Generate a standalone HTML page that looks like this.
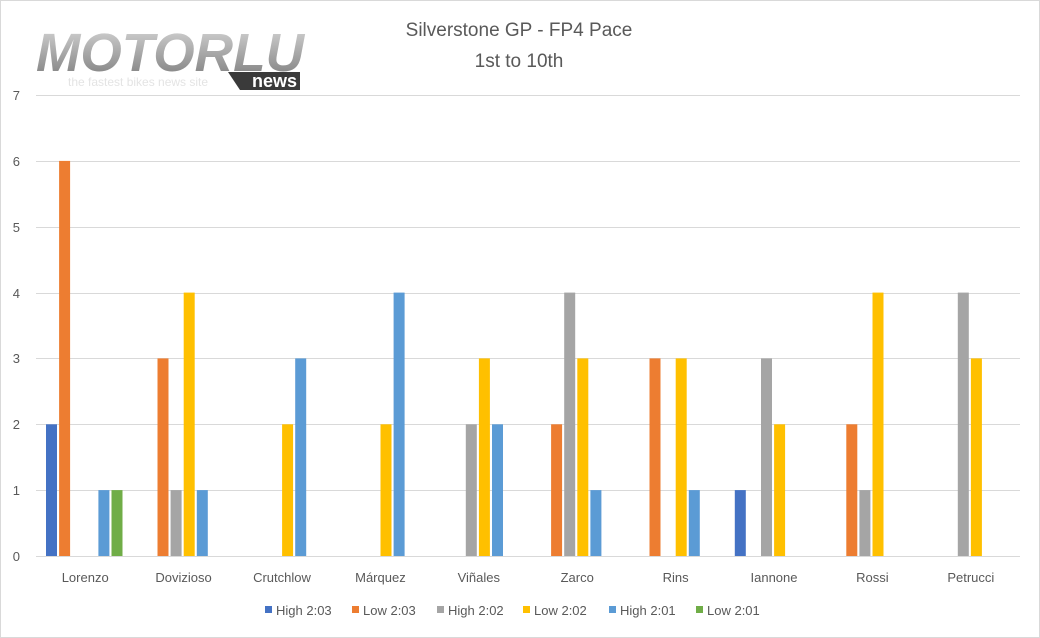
<!DOCTYPE html>
<html><head><meta charset="utf-8"><style>
html,body{margin:0;padding:0;background:#fff}
svg{display:block;font-family:"Liberation Sans",Arial,sans-serif}
</style></head><body>
<svg width="1040" height="638" viewBox="0 0 1040 638" xmlns="http://www.w3.org/2000/svg">
<defs><linearGradient id="lg" x1="0" y1="0" x2="0" y2="1"><stop offset="0" stop-color="#d8d8d8"/><stop offset="0.5" stop-color="#a8a8a8"/><stop offset="1" stop-color="#7a7a7a"/></linearGradient></defs>
<rect x="0.5" y="0.5" width="1039" height="637" fill="#fff" stroke="#d9d9d9"/>
<!-- logo -->
<text x="36" y="71" font-size="54" font-weight="bold" font-style="italic" fill="url(#lg)" textLength="268" lengthAdjust="spacingAndGlyphs">MOTORLU</text>
<polygon points="228,72 300,72 300,90 240,90" fill="#3a3a3a"/>
<text x="297" y="87" font-size="18" font-weight="bold" fill="#fff" text-anchor="end">news</text>
<text x="68" y="86" font-size="12" fill="#e4e4e4">the fastest bikes news site</text>
<!-- title -->
<text x="519" y="36" font-size="19" fill="#595959" text-anchor="middle">Silverstone GP - FP4 Pace</text>
<text x="519" y="67" font-size="19" fill="#595959" text-anchor="middle">1st to 10th</text>
<!-- grid -->
<g stroke="#d9d9d9" stroke-width="1">
<line x1="36" x2="1020" y1="95.5" y2="95.5"/><line x1="36" x2="1020" y1="161.5" y2="161.5"/>
<line x1="36" x2="1020" y1="227.5" y2="227.5"/><line x1="36" x2="1020" y1="293.5" y2="293.5"/>
<line x1="36" x2="1020" y1="358.5" y2="358.5"/><line x1="36" x2="1020" y1="424.5" y2="424.5"/>
<line x1="36" x2="1020" y1="490.5" y2="490.5"/><line x1="36" x2="1020" y1="556.5" y2="556.5"/>
</g>
<g font-size="13" fill="#595959" text-anchor="end">
<text x="20" y="100">7</text><text x="20" y="166">6</text><text x="20" y="232">5</text><text x="20" y="298">4</text>
<text x="20" y="363">3</text><text x="20" y="429">2</text><text x="20" y="495">1</text><text x="20" y="561">0</text>
</g>
<!-- bars -->
<g>
<rect x="46" y="424.3" width="11" height="131.7" fill="#4472c4"/>
<rect x="59.1" y="160.9" width="11" height="395.1" fill="#ed7d31"/>
<rect x="98.4" y="490.1" width="11" height="65.9" fill="#5b9bd5"/>
<rect x="111.5" y="490.1" width="11" height="65.9" fill="#70ad47"/>

<rect x="157.5" y="358.4" width="11" height="197.6" fill="#ed7d31"/>
<rect x="170.6" y="490.1" width="11" height="65.9" fill="#a5a5a5"/>
<rect x="183.7" y="292.6" width="11" height="263.4" fill="#ffc000"/>
<rect x="196.8" y="490.1" width="11" height="65.9" fill="#5b9bd5"/>

<rect x="282.1" y="424.3" width="11" height="131.7" fill="#ffc000"/>
<rect x="295.2" y="358.4" width="11" height="197.6" fill="#5b9bd5"/>

<rect x="380.5" y="424.3" width="11" height="131.7" fill="#ffc000"/>
<rect x="393.6" y="292.6" width="11" height="263.4" fill="#5b9bd5"/>

<rect x="465.8" y="424.3" width="11" height="131.7" fill="#a5a5a5"/>
<rect x="478.9" y="358.4" width="11" height="197.6" fill="#ffc000"/>
<rect x="492" y="424.3" width="11" height="131.7" fill="#5b9bd5"/>

<rect x="551.1" y="424.3" width="11" height="131.7" fill="#ed7d31"/>
<rect x="564.2" y="292.6" width="11" height="263.4" fill="#a5a5a5"/>
<rect x="577.3" y="358.4" width="11" height="197.6" fill="#ffc000"/>
<rect x="590.4" y="490.1" width="11" height="65.9" fill="#5b9bd5"/>

<rect x="649.5" y="358.4" width="11" height="197.6" fill="#ed7d31"/>
<rect x="675.7" y="358.4" width="11" height="197.6" fill="#ffc000"/>
<rect x="688.8" y="490.1" width="11" height="65.9" fill="#5b9bd5"/>

<rect x="734.8" y="490.1" width="11" height="65.9" fill="#4472c4"/>
<rect x="761" y="358.4" width="11" height="197.6" fill="#a5a5a5"/>
<rect x="774.1" y="424.3" width="11" height="131.7" fill="#ffc000"/>

<rect x="846.3" y="424.3" width="11" height="131.7" fill="#ed7d31"/>
<rect x="859.4" y="490.1" width="11" height="65.9" fill="#a5a5a5"/>
<rect x="872.5" y="292.6" width="11" height="263.4" fill="#ffc000"/>

<rect x="957.8" y="292.6" width="11" height="263.4" fill="#a5a5a5"/>
<rect x="970.9" y="358.4" width="11" height="197.6" fill="#ffc000"/>
</g>
<!-- category labels -->
<g font-size="13" fill="#595959" text-anchor="middle">
<text x="85.2" y="582">Lorenzo</text><text x="183.6" y="582">Dovizioso</text><text x="282" y="582">Crutchlow</text>
<text x="380.4" y="582">Márquez</text><text x="478.8" y="582">Viñales</text><text x="577.2" y="582">Zarco</text>
<text x="675.6" y="582">Rins</text><text x="774" y="582">Iannone</text><text x="872.4" y="582">Rossi</text>
<text x="970.8" y="582">Petrucci</text>
</g>
<!-- legend -->
<g font-size="13" fill="#595959">
<rect x="265" y="606" width="7" height="7" fill="#4472c4"/><text x="276" y="615">High 2:03</text>
<rect x="352" y="606" width="7" height="7" fill="#ed7d31"/><text x="363" y="615">Low 2:03</text>
<rect x="437" y="606" width="7" height="7" fill="#a5a5a5"/><text x="448" y="615">High 2:02</text>
<rect x="523" y="606" width="7" height="7" fill="#ffc000"/><text x="534" y="615">Low 2:02</text>
<rect x="609" y="606" width="7" height="7" fill="#5b9bd5"/><text x="620" y="615">High 2:01</text>
<rect x="696" y="606" width="7" height="7" fill="#70ad47"/><text x="707" y="615">Low 2:01</text>
</g>
</svg>
</body></html>
